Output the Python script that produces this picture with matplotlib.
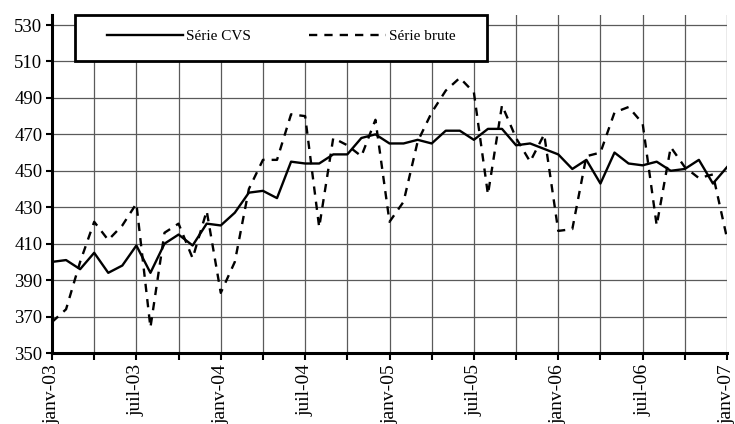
import numpy as np
import matplotlib.pyplot as plt
from matplotlib.patches import Rectangle
from matplotlib.ticker import MultipleLocator

# =============================================================================
# Data: monthly series, janv-03 .. janv-07 (49 months)
# =============================================================================

serie_cvs = [400, 401, 396, 405, 394, 398, 409, 394, 410, 415, 409, 421,
             420, 427, 438, 439, 435, 455, 454, 454, 459, 459, 468, 470,
             465, 465, 467, 465, 472, 472, 467, 473, 473, 464, 465, 462,
             459, 451, 456, 443, 460, 454, 453, 455, 450, 451, 456, 443,
             452]

serie_brute = [367, 374, 400, 422, 412, 420, 432, 364, 416, 421, 402, 428,
               383, 400, 440, 456, 456, 481, 480, 419, 468, 464, 458, 478,
               422, 433, 466, 482, 494, 501, 493, 437, 486, 468, 455, 470,
               417, 418, 458, 460, 482, 485, 476, 420, 463, 452, 446, 448,
               413]

tick_labels = ["janv-03", "juil-03", "janv-04", "juil-04", "janv-05",
               "juil-05", "janv-06", "juil-06", "janv-07"]

y_ticks = list(range(350, 531, 20))

months = np.arange(len(serie_cvs))

# =============================================================================
# Figure
# =============================================================================

plt.rcParams["font.family"] = ["Liberation Serif", "DejaVu Serif"]

W, H = 735, 424
fig = plt.figure(figsize=(W / 100, H / 100), dpi=100)
ax = fig.add_axes([52 / W, 1 - 353 / H, (727 - 52) / W, (353 - 15) / H])

grid_kw = dict(color="#5a5a5a", lw=0.9, zorder=0)
ax.xaxis.set_major_locator(MultipleLocator(6))
ax.xaxis.set_minor_locator(MultipleLocator(3))
ax.grid(True, which="both", axis="x", **grid_kw)
ax.grid(True, which="major", axis="y", **grid_kw)

ax.plot(months, serie_cvs, color="black", lw=1.7, label="Série CVS", zorder=3)
ax.plot(months, serie_brute, color="black", lw=1.7, linestyle=(0, (3.5, 3)),
        label="Série brute", zorder=3)

ax.set_xlim(0, len(months) - 1)
ax.set_ylim(350, 535.5)
ax.set_yticks(y_ticks)
ax.set_xticks(months[::6])
ax.set_xticklabels(tick_labels, rotation=90, fontsize=14)
ax.tick_params(axis="y", labelsize=13.5, length=4, width=1.5, pad=3)
ax.tick_params(axis="x", which="both", length=5, width=1.5, pad=3)

for side in ("top", "right"):
    ax.spines[side].set_visible(False)
for side in ("left", "bottom"):
    ax.spines[side].set_linewidth(2.2)

# legend box (drawn separately so the padding matches the original)
box = Rectangle((75 / W, 1 - 61 / H), (487 - 75) / W, 46 / H,
                transform=fig.transFigure, facecolor="white",
                edgecolor="black", lw=2, zorder=4, clip_on=False)
ax.add_patch(box)

leg = ax.legend(loc="center left", ncol=2, frameon=False,
                bbox_to_anchor=(107 / W, 1 - 36 / H),
                bbox_transform=fig.transFigure, fontsize=11,
                handlelength=5.0, handletextpad=0.2, columnspacing=3.8,
                borderpad=0, borderaxespad=0)
leg.set_zorder(5)

fig.savefig("out.png", dpi=100)
